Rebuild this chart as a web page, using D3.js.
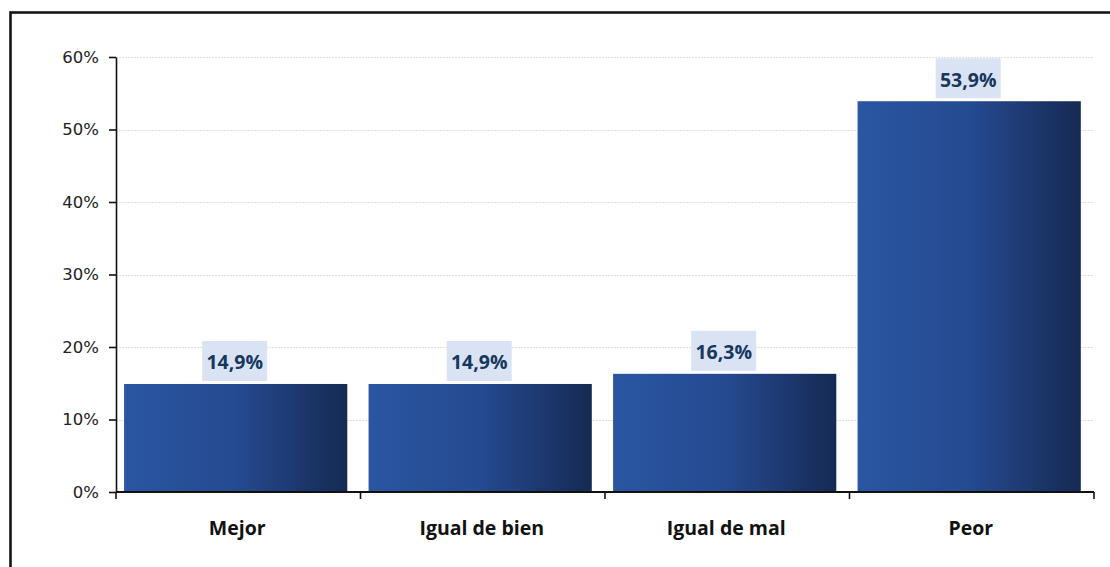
<!DOCTYPE html>
<html>
<head>
<meta charset="utf-8">
<script src="https://cdn.jsdelivr.net/npm/d3@7"></script>
<style>
  html, body { margin: 0; padding: 0; background: #fff; }
  svg { display: block; }
</style>
</head>
<body>
<svg id="chart" width="1110" height="567"></svg>
<script>
// Chart data
const categories = ["Mejor", "Igual de bien", "Igual de mal", "Peor"];
const values = [14.9, 14.9, 16.3, 53.9];
const yTicks = [0, 10, 20, 30, 40, 50, 60];

const svg = d3.select("#chart");
const plot = { left: 116, right: 1094, top: 57, bottom: 492 };

// Outer frame
svg.append("rect")
  .attr("x", 10.5).attr("y", 12.5)
  .attr("width", 1300).attr("height", 800)
  .attr("fill", "none")
  .attr("stroke", "#151515")
  .attr("stroke-width", 2.6);

// Gradient for the bars (blue on the left, dark navy on the right)
const defs = svg.append("defs");
const grad = defs.append("linearGradient").attr("id", "barGrad")
  .attr("x1", "0%").attr("x2", "100%").attr("y1", "0%").attr("y2", "0%");
grad.append("stop").attr("offset", "0%").attr("stop-color", "#2A56A2");
grad.append("stop").attr("offset", "50%").attr("stop-color", "#254A90");
grad.append("stop").attr("offset", "100%").attr("stop-color", "#162A54");

// Scales
const y = d3.scaleLinear().domain([0, 60]).range([plot.bottom, plot.top]);
const xBand = d3.scaleBand().domain(categories).range([plot.left, plot.right]).padding(0);
const barW = xBand.bandwidth() * 0.913;
const barOffset = xBand.bandwidth() * 0.033;

// Gridlines
svg.append("g").selectAll("line")
  .data(yTicks.filter(t => t > 0))
  .join("line")
  .attr("x1", plot.left).attr("x2", plot.right)
  .attr("y1", d => Math.round(y(d)) + 0.5).attr("y2", d => Math.round(y(d)) + 0.5)
  .attr("stroke", "#e0e0e0")
  .attr("stroke-width", 1)
  .attr("stroke-dasharray", "2,1");

// Bars
svg.append("g").selectAll("rect")
  .data(values)
  .join("rect")
  .attr("x", (d, i) => xBand(categories[i]) + barOffset)
  .attr("y", d => y(d))
  .attr("width", barW)
  .attr("height", d => plot.bottom - y(d))
  .attr("fill", "url(#barGrad)");

// Y axis
const yAxis = d3.axisLeft(y)
  .tickValues(yTicks)
  .tickFormat(d => d + "%")
  .tickSize(7)
  .tickSizeOuter(0)
  .tickPadding(10);
const gy = svg.append("g")
  .attr("transform", `translate(${plot.left},0)`)
  .call(yAxis);
gy.select(".domain").attr("stroke", "#111").attr("stroke-width", 1.6);
gy.selectAll(".tick line").attr("stroke", "#111").attr("stroke-width", 1.6);
gy.selectAll(".tick text")
  .attr("fill", "#222")
  .style("font-family", "'DejaVu Sans', sans-serif")
  .style("font-size", "16.5px");

// X axis line with tick marks at category boundaries
svg.append("line")
  .attr("x1", plot.left).attr("x2", plot.right)
  .attr("y1", plot.bottom).attr("y2", plot.bottom)
  .attr("stroke", "#111").attr("stroke-width", 1.8);
const boundaries = categories.map(c => xBand(c)).concat([plot.right]);
svg.append("g").selectAll("line")
  .data(boundaries)
  .join("line")
  .attr("x1", d => d).attr("x2", d => d)
  .attr("y1", plot.bottom).attr("y2", plot.bottom + 7)
  .attr("stroke", "#111").attr("stroke-width", 1.6);

// Category labels
svg.append("g").selectAll("text")
  .data(categories)
  .join("text")
  .attr("x", d => xBand(d) + xBand.bandwidth() / 2 - 1)
  .attr("y", 527)
  .attr("text-anchor", "middle")
  .attr("dominant-baseline", "central")
  .attr("fill", "#111")
  .style("font-family", "'Open Sans', sans-serif")
  .style("font-weight", "700")
  .style("font-size", "19.5px")
  .text(d => d);

// Value labels with light background boxes
const fmt = v => v.toFixed(1).replace(".", ",") + "%";
const labels = svg.append("g").selectAll("g")
  .data(values)
  .join("g")
  .attr("transform", (d, i) => {
    const cx = xBand(categories[i]) + barOffset + barW / 2 - 1;
    return `translate(${cx},${y(d) - 23})`;
  });
labels.append("rect")
  .attr("x", -32.5).attr("y", -20)
  .attr("width", 65).attr("height", 40)
  .attr("fill", "#DAE3F3");
labels.append("text")
  .attr("text-anchor", "middle")
  .attr("dominant-baseline", "central")
  .attr("y", 1)
  .attr("fill", "#17375E")
  .style("font-family", "'Open Sans', sans-serif")
  .style("font-weight", "700")
  .style("font-size", "19.5px")
  .text(d => fmt(d));
</script>
</body>
</html>
